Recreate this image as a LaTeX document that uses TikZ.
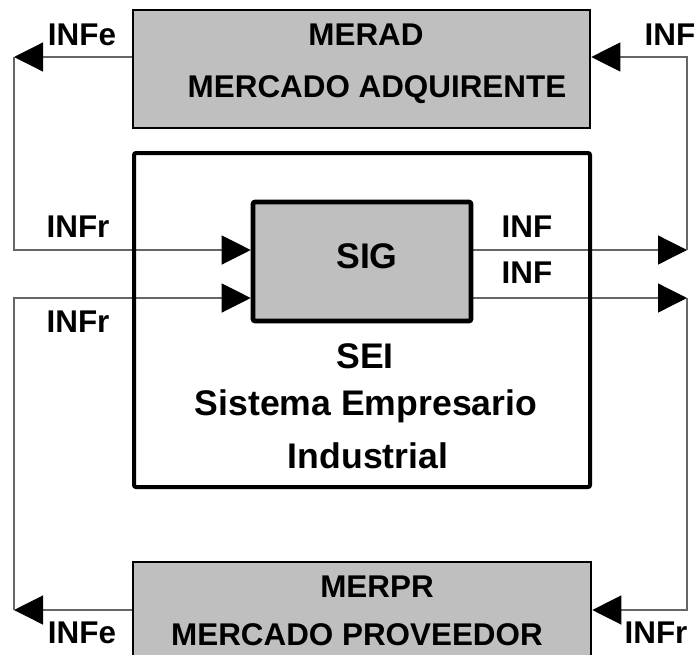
\documentclass[tikz,border=0pt]{standalone}
\usepackage{fontspec}
\setmainfont{Liberation Sans}
\usetikzlibrary{arrows.meta,backgrounds}

\begin{document}
\begin{tikzpicture}[x=0.5pt,y=-0.5pt,
	box/.style={draw=black,line width=1.3pt,fill=black!25,inner sep=0pt},
	frame/.style={draw=black,line width=2pt,rounded corners=1pt,inner sep=0pt},
	txt/.style={font=\fontsize{15.7}{18}\selectfont\bfseries,inner sep=0pt,anchor=base},
	big/.style={txt,font=\fontsize{17.8}{20}\selectfont\bfseries},
	flow/.style={draw=black!60,line width=0.6pt,-{Triangle[length=14.5pt,width=14.5pt,color=black]}}]
	\useasboundingbox (0,0) rectangle (694,654);

	\node[box,minimum width=228.5pt,minimum height=59pt] (merad) at (361.5,69) {};
	\node[frame,minimum width=228pt,minimum height=167pt] (sei) at (362,320) {};
	\node[frame,fill=black!25,line width=2.3pt,minimum width=109pt,minimum height=59.5pt] (sig) at (362,261.5) {};
	\node[box,minimum width=229pt,minimum height=59pt] (merpr) at (362,621) {};

	\coordinate (1) at (14,57);
	\coordinate (2) at (14,250);
	\coordinate (3) at (14,298);
	\coordinate (4) at (14,610);
	\coordinate (5) at (687,57);
	\coordinate (6) at (687,250);
	\coordinate (7) at (687,298);
	\coordinate (8) at (687,610);

	\begin{scope}[on background layer]
	\path[flow] (merad.west |- 1) -- (1);
	\path[flow] (1) -- (2) -- (sig.west |- 2);
	\path[flow] (merpr.west |- 4) -- (4);
	\path[flow] (4) -- (3) -- (sig.west |- 3);
	\path[flow] (sig.east |- 6) -- (6);
	\path[flow] (6) -- (5) -- (merad.east |- 5);
	\path[flow] (sig.east |- 7) -- (7);
	\path[flow] (7) -- (8) -- (merpr.east |- 8);
	\end{scope}

	\node[txt] (merad1) at (366,45) {MERAD};
	\node[txt] (merad2) at (377,97) {MERCADO ADQUIRENTE};
	\node[big] (sig1) at (367,268) {SIG};
	\node[big] (sei1) at (365,368) {SEI};
	\node[big] (sei2) at (366,415) {Sistema Empresario};
	\node[big] (sei3) at (368,468) {Industrial};
	\node[txt] (merpr1) at (377,597) {MERPR};
	\node[txt] (merpr2) at (357,645) {MERCADO PROVEEDOR};

	\node[txt] (infe1) at (82,45) {INFe};
	\node[txt] (inf1) at (670,45) {INF};
	\node[txt] (infr1) at (78,237) {INFr};
	\node[txt] (infr2) at (78,332) {INFr};
	\node[txt] (inf2) at (527,237) {INF};
	\node[txt] (inf3) at (527,283) {INF};
	\node[txt] (infe2) at (82,643) {INFe};
	\node[txt] (infr3) at (656,643) {INFr};
\end{tikzpicture}
\end{document}
